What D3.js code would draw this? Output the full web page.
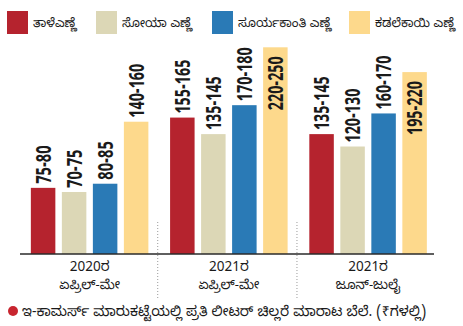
<!DOCTYPE html>
<html>
<head>
<meta charset="utf-8">
<script src="https://cdn.jsdelivr.net/npm/d3@7"></script>
<style>
  html, body { margin: 0; padding: 0; background: #fff; }
  svg { display: block; }
  text { font-family: "Noto Sans Kannada", "Noto Sans", "Lato", sans-serif; fill: #1a1a1a; }
</style>
</head>
<body>
<svg id="chart" width="463" height="326"></svg>
<script>
// ---- data ----
const years = ["2020ರ", "2021ರ", "2021ರ"];
const periods = ["ಏಪ್ರಿಲ್-ಮೇ", "ಏಪ್ರಿಲ್-ಮೇ", "ಜೂನ್-ಜುಲೈ"];
const groupKeys = ["g1", "g2", "g3"];
const seriesNames = ["ತಾಳೆಎಣ್ಣೆ", "ಸೋಯಾ ಎಣ್ಣೆ", "ಸೂರ್ಯಕಾಂತಿ ಎಣ್ಣೆ", "ಕಡಲೆಕಾಯಿ ಎಣ್ಣೆ"];
const seriesColors = ["#b5232e", "#dcd7b6", "#2a7ab6", "#fdd98c"];
const palmLow = [75, 155, 135],      palmHigh = [80, 165, 145];
const soyaLow = [70, 135, 120],      soyaHigh = [75, 145, 130];
const sunLow = [80, 170, 160],       sunHigh = [85, 180, 170];
const groundnutLow = [140, 220, 195], groundnutHigh = [160, 250, 220];
const footnote = "ಇ-ಕಾಮರ್ಸ್ ಮಾರುಕಟ್ಟೆಯಲ್ಲಿ ಪ್ರತಿ ಲೀಟರ್ ಚಿಲ್ಲರೆ ಮಾರಾಟ ಬೆಲೆ. (₹ಗಳಲ್ಲಿ)";

const lows = [palmLow, soyaLow, sunLow, groundnutLow];
const highs = [palmHigh, soyaHigh, sunHigh, groundnutHigh];

const svg = d3.select("#chart");

// ---- scales ----
const baseY = 254;
const y = d3.scaleLinear().domain([0, 250]).range([baseY, 47.3]);
const x0 = d3.scaleBand().domain(groupKeys).range([20, 437.7]).paddingInner(0).paddingOuter(0);
const x1 = d3.scaleBand().domain(d3.range(4)).range([0, x0.bandwidth()])
  .paddingInner(0.21).paddingOuter(0.35);

// ---- legend ----
const legendX = [7, 96, 212, 349];
const leg = svg.append("g");
seriesNames.forEach((name, i) => {
  leg.append("rect").attr("x", legendX[i]).attr("y", 11).attr("width", 21).attr("height", 23)
    .attr("fill", seriesColors[i]);
  leg.append("text").attr("x", legendX[i] + 26).attr("y", 22.5).attr("dy", "0.35em")
    .attr("font-size", 12.3).text(name);
});

// ---- bars ----
const data = [];
groupKeys.forEach((g, gi) => {
  for (let s = 0; s < 4; s++) {
    data.push({ g, gi, s, low: lows[s][gi], high: highs[s][gi] });
  }
});

const bars = svg.append("g");
bars.selectAll("rect").data(data).join("rect")
  .attr("x", d => x0(d.g) + x1(d.s))
  .attr("y", d => y(d.high))
  .attr("width", x1.bandwidth())
  .attr("height", d => baseY - y(d.high))
  .attr("fill", d => seriesColors[d.s]);

// value labels (rotated)
const labels = svg.append("g");
data.forEach(d => {
  const txt = d.low + "-" + d.high;
  const len = txt.length * 7.7;
  const top = y(d.high);
  const inside = top - 4 - len < 45;
  const cx = x0(d.g) + x1(d.s) + x1.bandwidth() / 2;
  const yy = inside ? top + 9 : top - 4;
  labels.append("text")
    .attr("transform", `translate(${cx},${yy}) rotate(-90)`)
    .attr("text-anchor", inside ? "end" : "start")
    .attr("dy", "0.37em")
    .attr("font-family", "'Liberation Sans', Arial, sans-serif")
    .attr("font-weight", "bold")
    .attr("font-size", 21)
    .attr("textLength", len)
    .attr("lengthAdjust", "spacingAndGlyphs")
    .style("fill", "#1a1a1a")
    .text(txt);
});

// ---- axis line ----
svg.append("line").attr("x1", 20).attr("x2", 434).attr("y1", baseY).attr("y2", baseY)
  .attr("stroke", "#2a2a2a").attr("stroke-width", 1.4);

// separators
[1, 2].forEach(i => {
  const sx = x0(groupKeys[i]) - 1.5;
  svg.append("line").attr("x1", sx).attr("x2", sx).attr("y1", 222).attr("y2", 300)
    .attr("stroke", "#9a9a9a").attr("stroke-width", 1).attr("stroke-dasharray", "1,2");
});

// x labels
groupKeys.forEach((g, i) => {
  const cx = x0(g) + x0.bandwidth() / 2;
  svg.append("text").attr("x", cx).attr("y", 266).attr("dy", "0.35em")
    .attr("text-anchor", "middle").attr("font-size", 13.5).text(years[i]);
  svg.append("text").attr("x", cx).attr("y", 284).attr("dy", "0.35em")
    .attr("text-anchor", "middle").attr("font-size", 13).text(periods[i]);
});

// footnote
svg.append("circle").attr("cx", 13).attr("cy", 311).attr("r", 5).attr("fill", "#c8252f");
svg.append("text").attr("x", 22).attr("y", 311).attr("dy", "0.35em")
  .attr("font-size", 14).text(footnote);
</script>
</body>
</html>
